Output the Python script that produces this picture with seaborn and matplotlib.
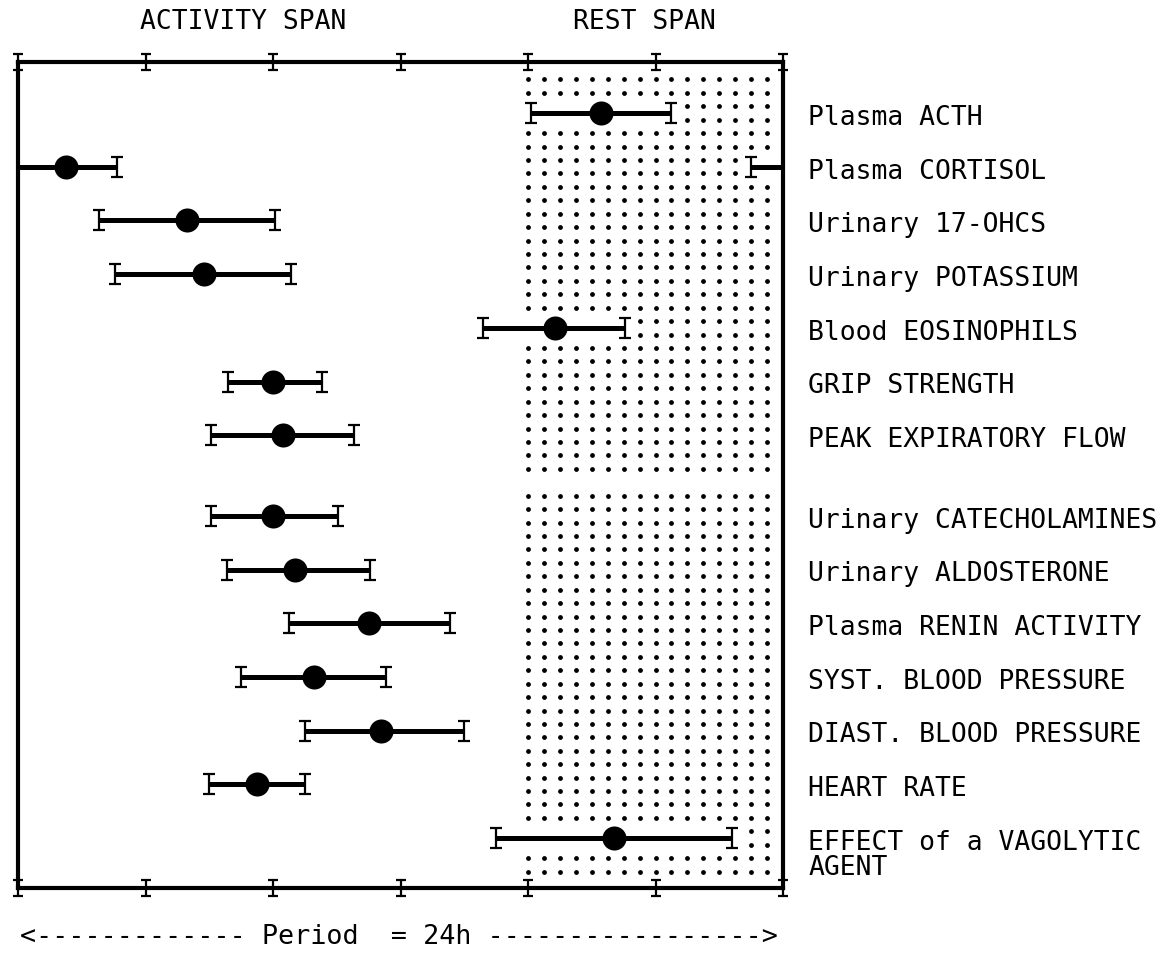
import numpy as np
import pandas as pd
import matplotlib
matplotlib.use("Agg")
import matplotlib.pyplot as plt
from matplotlib.path import Path
import seaborn as sns

# acrophases (hours after start of activity) with confidence limits
labels = ["Plasma ACTH", "Plasma CORTISOL", "Urinary 17-OHCS", "Urinary POTASSIUM",
          "Blood EOSINOPHILS", "GRIP STRENGTH", "PEAK EXPIRATORY FLOW",
          "Urinary CATECHOLAMINES", "Urinary ALDOSTERONE", "Plasma RENIN ACTIVITY",
          "SYST. BLOOD PRESSURE", "DIAST. BLOOD PRESSURE", "HEART RATE",
          "EFFECT of a VAGOLYTIC\nAGENT"]
group = [0, 0, 0, 0, 0, 0, 0, 1, 1, 1, 1, 1, 1, 1]
acrophase = [18.3, 1.5, 5.3, 5.85, 16.85, 8.0, 8.3, 8.0, 8.7, 11.0, 9.3, 11.4, 7.5, 18.7]
ci_low = [16.1, 23.0, 2.55, 3.05, 14.6, 6.6, 6.05, 6.05, 6.55, 8.5, 7.0, 9.0, 6.0, 15.0]
ci_high = [20.5, 3.1, 8.05, 8.55, 19.05, 9.55, 10.55, 10.05, 11.05, 13.55, 11.55, 14.0, 9.0, 22.4]
period = 24
rest_start = 16
hour_ticks = [0, 4, 8, 12, 16, 20, 24]

df = pd.DataFrame({"label": labels, "acrophase": acrophase,
                   "low": ci_low, "high": ci_high, "group": group})
df["row"] = np.arange(len(df)) + 0.5 * df["group"]

sns.set_style("white")
plt.rcParams["font.family"] = ["DejaVu Sans Mono", "DejaVu Sans"]
plt.rcParams["text.color"] = "black"

fig = plt.figure(figsize=(11.62, 9.6), dpi=100)
ax = fig.add_axes([18 / 1162, 72 / 960, 765 / 1162, 826 / 960])
ax.set_xlim(0, period)
ax.set_ylim(14.43, -0.95)
ax.set_xticks([])
ax.set_yticks([])
for s in ax.spines.values():
    s.set_visible(True)
    s.set_color("black")
    s.set_linewidth(3)

# I-beam shaped marker for caps and frame ticks
ibeam = Path([(-0.3, 0.5), (0.3, 0.5), (0, 0.5), (0, -0.5), (-0.3, -0.5), (0.3, -0.5)],
             [Path.MOVETO, Path.LINETO, Path.MOVETO, Path.LINETO, Path.MOVETO, Path.LINETO])

# dotted rest span
xs = rest_start + 0.5 * np.arange(16)
ys = np.concatenate([-0.625 + 0.25 * np.arange(30), 7.125 + 0.25 * np.arange(29)])
gx, gy = np.meshgrid(xs, ys)
ax.scatter(gx.ravel(), gy.ravel(), s=12, color="black", linewidths=0, zorder=1)

for _, r in df.iterrows():
    if r["low"] > r["acrophase"]:
        segs = [(r["low"], period), (0, r["high"])]
    else:
        segs = [(r["low"], r["high"])]
    for a, b in segs:
        ax.plot([max(a - 0.2, 0), min(b + 0.2, period)], [r["row"], r["row"]],
                color="white", lw=17, solid_capstyle="butt", zorder=2)
        ax.plot([a, b], [r["row"], r["row"]], color="black", lw=3.6,
                solid_capstyle="butt", zorder=3)
    ax.plot([r["low"], r["high"]], [r["row"], r["row"]], ls="none", marker=ibeam,
            ms=14, mew=1.6, mfc="none", mec="black", zorder=4)
    for k, line in enumerate(r["label"].split("\n")):
        ax.text(period + 0.8, r["row"] + 0.22 + 0.466 * k, line, fontsize=19,
                va="baseline", ha="left", clip_on=False)

sns.scatterplot(data=df, x="acrophase", y="row", s=300, color="black",
                linewidth=0, legend=False, ax=ax, zorder=5)
ax.set_xlabel("")
ax.set_ylabel("")

# frame ticks every 4 h, top and bottom
for yy in ax.get_ylim():
    ax.plot(hour_ticks, [yy] * len(hour_ticks), ls="none", marker=ibeam, ms=12,
            mew=1.6, mfc="none", mec="black", clip_on=False, zorder=6)

fig.text(243 / 1162, 1 - 22 / 960, "ACTIVITY SPAN", fontsize=19, ha="center", va="center")
fig.text(644 / 1162, 1 - 22 / 960, "REST SPAN", fontsize=19, ha="center", va="center")
fig.text(20 / 1162, 1 - 937 / 960, "<------------- Period  = 24h ----------------->",
         fontsize=19.3, ha="left", va="center")

fig.savefig("out.png", dpi=100)
